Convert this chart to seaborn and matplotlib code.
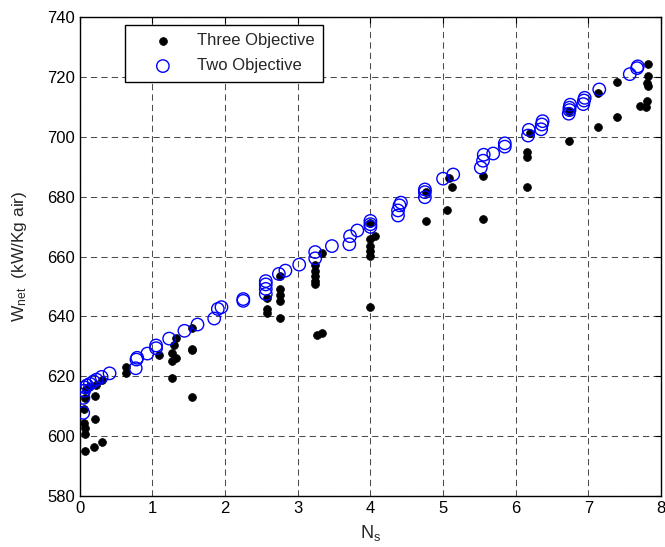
import numpy as np
import pandas as pd
import matplotlib
matplotlib.use("Agg")
import matplotlib.pyplot as plt
import seaborn as sns

# ---- data ----
three_x = [0.076, 0.07, 0.07, 0.06, 0.06, 0.07, 0.09, 0.12, 0.20, 0.21, 0.21, 0.22,
           0.30, 0.31, 0.63, 0.63, 1.09, 1.27, 1.27, 1.27, 1.29, 1.33, 1.33,
           1.55, 1.55, 1.55, 1.55, 2.57, 2.57, 2.57, 2.76, 2.76, 2.76, 2.76, 2.76,
           3.24, 3.24, 3.24, 3.24, 3.24, 3.33, 3.26, 3.34,
           4.00, 4.00, 4.00, 4.00, 4.00, 4.06, 4.00,
           4.76, 4.76, 5.08, 5.12, 5.06, 5.55, 5.55,
           6.15, 6.15, 6.15, 6.19, 6.73, 6.73, 7.13, 7.13, 7.40, 7.40,
           7.71, 7.80, 7.81, 7.82, 7.81, 7.82, 7.82]
three_y = [595.0, 600.6, 602.6, 604.5, 609.0, 612.8, 615.7, 616.5, 596.5, 605.9, 613.6, 617.0,
           598.0, 618.7, 623.0, 621.0, 627.2, 619.5, 625.1, 627.7, 630.3, 626.0, 632.9,
           636.0, 628.8, 629.2, 613.2, 646.3, 642.5, 641.1, 653.6, 649.0, 647.0, 645.1, 639.4,
           657.1, 655.3, 653.6, 651.8, 650.7, 661.2, 633.8, 634.6,
           671.1, 665.8, 663.5, 661.7, 660.3, 667.0, 643.1,
           681.5, 672.0, 686.2, 683.3, 675.7, 687.0, 672.6,
           693.2, 695.0, 683.3, 701.3, 698.7, 708.6, 703.3, 714.7, 706.6, 718.3,
           710.4, 710.0, 712.0, 717.0, 718.1, 720.2, 724.3]

two_x = [0.047, 0.05, 0.06, 0.07, 0.10, 0.14, 0.19, 0.23, 0.30, 0.41,
         0.77, 0.78, 0.79, 0.93, 1.05, 1.05, 1.23, 1.44, 1.62, 1.85, 1.90, 1.95,
         2.25, 2.25, 2.56, 2.56, 2.56, 2.56, 2.74, 2.83, 3.02, 3.24, 3.24,
         3.47, 3.71, 3.72, 3.82, 4.00, 4.00, 4.00, 4.38, 4.38, 4.40, 4.42,
         4.75, 4.75, 4.75, 5.00, 5.14, 5.52, 5.55, 5.56, 5.69, 5.85, 5.85,
         6.17, 6.18, 6.35, 6.36, 6.37, 6.73, 6.74, 6.74, 6.75, 6.93, 6.94, 6.95,
         7.15, 7.57, 7.67, 7.68]
two_y = [607.8, 612.8, 615.2, 616.3, 617.0, 617.5, 618.3, 618.9, 619.8, 621.0,
         622.7, 625.6, 626.2, 627.6, 629.4, 630.3, 632.6, 635.2, 637.3, 639.3, 642.5, 643.1,
         645.2, 645.8, 647.5, 649.2, 650.7, 651.8, 654.2, 655.3, 657.3, 659.4, 661.5,
         663.5, 664.1, 666.8, 668.7, 669.9, 670.8, 671.9, 673.7, 675.4, 677.1, 678.0,
         679.8, 681.5, 682.4, 686.0, 687.4, 689.7, 692.0, 694.0, 694.4, 696.7, 697.8,
         700.4, 702.3, 702.5, 704.1, 705.2, 707.7, 708.9, 709.7, 710.7, 710.9, 712.1, 713.0,
         715.8, 720.9, 722.9, 723.5]

x_ticks = [0, 1, 2, 3, 4, 5, 6, 7, 8]
y_ticks = [580, 600, 620, 640, 660, 680, 700, 720, 740]

sns.set_style("white")
plt.rcParams['font.family'] = ['Liberation Sans', 'DejaVu Sans']
plt.rcParams['mathtext.fontset'] = 'custom'
plt.rcParams['mathtext.rm'] = 'Liberation Sans'
plt.rcParams['mathtext.it'] = 'Liberation Sans'

fig = plt.figure(figsize=(6.65, 5.47), dpi=100)
ax = fig.add_axes([0.120, 0.093, 0.874, 0.876])

df3 = pd.DataFrame({"x": three_x, "y": three_y})
df2 = pd.DataFrame({"x": two_x, "y": two_y})

sns.scatterplot(data=df3, x="x", y="y", ax=ax, color="black", marker="o",
                s=32, edgecolor="black", linewidth=0.5, label="Three Objective", zorder=3)
sns.scatterplot(data=df2, x="x", y="y", ax=ax, marker="o", s=80,
                facecolor="none", edgecolor="#0000ff", linewidth=1.0,
                label="Two Objective", zorder=4)

ax.set_xlim(0, 8)
ax.set_ylim(580, 740)
ax.set_xticks(x_ticks)
ax.set_yticks(y_ticks)
ax.tick_params(direction="in", length=4, width=0.8, labelsize=12, top=True, right=True,
               colors="black")
ax.grid(True, color="black", linestyle=(0, (6, 4)), linewidth=0.75, alpha=0.7)
for s in ax.spines.values():
    s.set_color("black")
    s.set_linewidth(1.0)

ax.set_xlabel(r"N$_\mathrm{s}$", fontsize=13, labelpad=5)
ax.set_ylabel(r"W$_\mathrm{net}$  (kW/Kg air)", fontsize=12.5, labelpad=13)

leg = ax.legend(loc="upper left", bbox_to_anchor=(0.077, 0.983), borderaxespad=0,
                fontsize=12, frameon=True, fancybox=False, edgecolor="black",
                framealpha=1, handlelength=3.6, handletextpad=0.25, borderpad=0.5,
                labelspacing=0.6)
leg.get_frame().set_linewidth(1.0)

fig.savefig("out.png", dpi=100)
